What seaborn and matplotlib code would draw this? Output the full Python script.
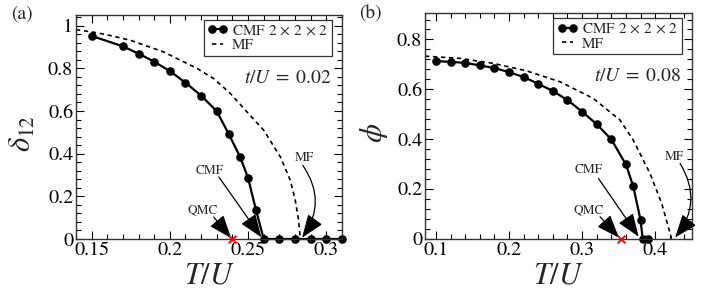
import numpy as np
import pandas as pd
import matplotlib
matplotlib.use("Agg")
import matplotlib.pyplot as plt
from matplotlib.ticker import MultipleLocator, FuncFormatter
import seaborn as sns

# ---------------- data ----------------
# panel (a): t/U = 0.02
a_cmf_T = [0.15, 0.17, 0.18, 0.19, 0.20, 0.21, 0.22, 0.23, 0.2375, 0.245, 0.25,
           0.255, 0.26, 0.27, 0.28, 0.29, 0.30, 0.31]
a_cmf_d = [0.952, 0.903, 0.869, 0.831, 0.787, 0.733, 0.672, 0.599, 0.494, 0.384,
           0.286, 0.138, 0.0, 0.0, 0.0, 0.0, 0.0, 0.0]
a_mf_T = [0.14, 0.15, 0.16, 0.175, 0.196, 0.2175, 0.228, 0.2387, 0.2494, 0.260,
          0.2707, 0.277, 0.2802, 0.2823, 0.2834, 0.31]
a_mf_d = [0.981, 0.971, 0.957, 0.931, 0.877, 0.799, 0.752, 0.682, 0.595, 0.510,
          0.384, 0.275, 0.181, 0.088, 0.0, 0.0]
a_qmc_T = [0.240]
a_qmc_d = [0.0]

# panel (b): t/U = 0.08
b_cmf_T = [0.10, 0.12, 0.14, 0.16, 0.18, 0.20, 0.22, 0.24, 0.26, 0.28, 0.30, 0.32,
           0.34, 0.36, 0.37, 0.38, 0.383, 0.39]
b_cmf_p = [0.713, 0.710, 0.706, 0.696, 0.685, 0.669, 0.649, 0.622, 0.593, 0.557,
           0.510, 0.460, 0.399, 0.298, 0.211, 0.076, 0.0, 0.0]
b_mf_T = [0.085, 0.133, 0.1785, 0.224, 0.270, 0.3155, 0.352, 0.370, 0.393, 0.409,
          0.418, 0.4225]
b_mf_p = [0.733, 0.724, 0.704, 0.674, 0.630, 0.563, 0.476, 0.396, 0.262, 0.142,
          0.048, 0.0]
b_qmc_T = [0.353]
b_qmc_p = [0.0]

legend_cmf = r"CMF $2\,\times\,2\,\times\,2$"
legend_mf = "MF"

# ---------------- style ----------------
sns.set_style("ticks")
plt.rcParams["font.family"] = ["STIXGeneral", "DejaVu Serif"]
plt.rcParams["mathtext.fontset"] = "stix"

fig = plt.figure(figsize=(7.14, 2.91), dpi=100)
ax1 = fig.add_axes([0.1064, 0.1787, 0.3725, 0.7698])
ax2 = fig.add_axes([0.5952, 0.1797, 0.3735, 0.7746])

FRAME = "#333333"
fmt = FuncFormatter(lambda v, p: "%g" % round(v, 6))


def draw(ax, cT, cV, mT, mV, qT, qV):
    sns.lineplot(x=mT, y=mV, ax=ax, color="black", lw=1.2, label=legend_mf,
                 sort=False, estimator=None)
    ax.lines[-1].set_dashes((2.6, 2.2))
    ax.lines[-1].set_clip_on(False)
    sns.lineplot(x=cT, y=cV, ax=ax, color="black", lw=1.6, marker="o",
                 markersize=6.2, markeredgewidth=0, label=legend_cmf,
                 sort=False, estimator=None)
    ax.lines[-1].set_clip_on(False)
    sns.scatterplot(x=qT, y=qV, ax=ax, marker="x", color="red", s=30,
                    linewidth=1.4, zorder=5, clip_on=False)
    for s in ax.spines.values():
        s.set_color(FRAME)
        s.set_linewidth(1.0)
    ax.tick_params(which="both", direction="in", top=True, right=True,
                   colors="black", labelsize=14.5, pad=2)
    ax.tick_params(which="major", length=6, width=0.8)
    ax.tick_params(which="minor", length=3.5, width=0.8)
    ax.xaxis.set_major_formatter(fmt)
    ax.yaxis.set_major_formatter(fmt)
    ax.set_xlabel(r"$T/U$", fontsize=22, labelpad=0)
    # legend: CMF first
    h, l = ax.get_legend_handles_labels()
    order = [l.index(legend_cmf), l.index(legend_mf)]
    leg = ax.legend([h[i] for i in order], [l[i] for i in order],
                    loc="upper right", bbox_to_anchor=(0.963, 0.977),
                    fontsize=11, frameon=True, fancybox=False, numpoints=2,
                    handlelength=1.3, handletextpad=0.3, borderpad=0.25,
                    labelspacing=0.05, borderaxespad=0)
    leg.get_frame().set_edgecolor("black")
    leg.get_frame().set_linewidth(0.9)


def arrow(ax, start, tip, rad=0.0):
    ax.annotate("", xy=tip, xytext=start,
                arrowprops=dict(arrowstyle="-|>,head_length=0.9,head_width=0.34",
                                mutation_scale=16, lw=0.9, color="black",
                                shrinkA=0, shrinkB=0,
                                connectionstyle=f"arc3,rad={rad}"),
                annotation_clip=False)


# ---- panel (a)
draw(ax1, a_cmf_T, a_cmf_d, a_mf_T, a_mf_d, a_qmc_T, a_qmc_d)
ax1.set_xlim(0.14, 0.31)
ax1.set_ylim(0, 1.05)
ax1.set_xticks([0.15, 0.2, 0.25, 0.3])
ax1.xaxis.set_minor_locator(MultipleLocator(0.01))
ax1.set_yticks([0, 0.2, 0.4, 0.6, 0.8, 1.0])
ax1.yaxis.set_minor_locator(MultipleLocator(0.04))
ax1.set_ylabel(r"$\delta_{12}$", fontsize=22)
ax1.yaxis.set_label_coords(-0.143, 0.47)
ax1.xaxis.set_label_coords(0.5, -0.105)
ax1.text(0.96, 0.715, r"$t/U\;=\;0.02$", transform=ax1.transAxes, fontsize=14,
         ha="right", va="center")
ax1.text(0.2212, 0.135, "QMC", fontsize=9.5, ha="center", va="center")
arrow(ax1, (0.228, 0.103), (0.2392, 0.004))
ax1.text(0.2255, 0.318, "CMF", fontsize=9.5, ha="center", va="center")
arrow(ax1, (0.2313, 0.291), (0.2585, 0.008))
ax1.text(0.2861, 0.377, "MF", fontsize=9.5, ha="center", va="center")
arrow(ax1, (0.2850, 0.345), (0.2845, 0.006), rad=-0.35)

# ---- panel (b)
draw(ax2, b_cmf_T, b_cmf_p, b_mf_T, b_mf_p, b_qmc_T, b_qmc_p)
ax2.set_xlim(0.085, 0.45)
ax2.set_ylim(0, 0.905)
ax2.set_xticks([0.1, 0.2, 0.3, 0.4])
ax2.xaxis.set_minor_locator(MultipleLocator(0.02))
ax2.set_yticks([0, 0.2, 0.4, 0.6, 0.8])
ax2.yaxis.set_minor_locator(MultipleLocator(0.04))
ax2.set_ylabel(r"$\phi$", fontsize=22)
ax2.yaxis.set_label_coords(-0.131, 0.47)
ax2.xaxis.set_label_coords(0.5, -0.105)
ax2.text(0.96, 0.72, r"$t/U\;=\;0.08$", transform=ax2.transAxes, fontsize=14,
         ha="right", va="center")
ax2.text(0.3096, 0.115, "QMC", fontsize=9.5, ha="center", va="center")
arrow(ax2, (0.3247, 0.088), (0.3505, 0.004))
ax2.text(0.3087, 0.276, "CMF", fontsize=9.5, ha="center", va="center")
arrow(ax2, (0.3224, 0.242), (0.3775, 0.008))
ax2.text(0.426, 0.329, "MF", fontsize=9.5, ha="center", va="center")
arrow(ax2, (0.4342, 0.302), (0.4274, 0.005), rad=-0.35)

fig.text(22 / 714, 1 - 14 / 291, "(a)", fontsize=14, ha="center", va="center")
fig.text(370 / 714, 1 - 14 / 291, "(b)", fontsize=14, ha="center", va="center")

fig.savefig("out.png", dpi=100)
